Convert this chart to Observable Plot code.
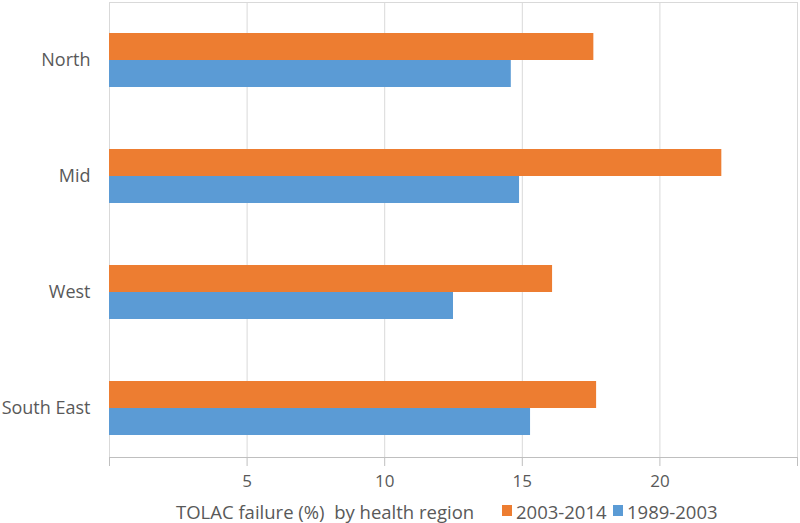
<!DOCTYPE html>
<html>
<head>
<meta charset="utf-8">
<script src="https://cdn.jsdelivr.net/npm/d3@7"></script>
<script src="https://cdn.jsdelivr.net/npm/@observablehq/plot@0.6"></script>
<style>
  body { margin: 0; background: #fff; font-family: "Open Sans", sans-serif; }
  #legend { position: relative; height: 26px; font-size: 18.5px; color: #595959; white-space: nowrap; }
  #legend span { position: absolute; top: 4px; line-height: 22px; }
  .sw { display: inline-block; width: 10px; height: 11px; }
</style>
</head>
<body>
<div id="chart"></div>
<div id="legend"></div>
<script>
const regions = ["North", "Mid", "West", "South East"];
const periods = ["2003-2014", "1989-2003"];
const values2003_2014 = [17.6, 22.25, 16.1, 17.7];
const values1989_2003 = [14.6, 14.9, 12.5, 15.3];
const xTicks = [0, 5, 10, 15, 20, 25];
const colors = ["#ED7D31", "#5B9BD5"];
const xLabel = "TOLAC failure (%)\u00a0 by health region";

const recent = regions.map((r, i) => ({region: r, period: periods[0], value: values2003_2014[i]}));
const older = regions.map((r, i) => ({region: r, period: periods[1], value: values1989_2003[i]}));

const plot = Plot.plot({
  width: 800,
  height: 497,
  marginLeft: 109,
  marginRight: 3,
  marginTop: 2,
  marginBottom: 40,
  style: {fontFamily: "'Open Sans', sans-serif", fontSize: "17px", color: "#595959", background: "#fff"},
  x: {domain: [0, 25]},
  y: {domain: regions, range: [33, 435], paddingInner: 0.5345, paddingOuter: 0},
  color: {domain: periods, range: colors},
  marks: [
    Plot.ruleX(xTicks, {stroke: "#d9d9d9", strokeWidth: 1}),
    Plot.frame({stroke: "#d9d9d9"}),
    Plot.barX(recent, {y: "region", x: "value", fill: "period", insetBottom: 27, insetTop: 0}),
    Plot.barX(older, {y: "region", x: "value", fill: "period", insetTop: 27, insetBottom: 0}),
    Plot.frame({anchor: "bottom", stroke: "#bfbfbf"}),
    Plot.axisX({ticks: xTicks, tickSize: 9, tickPadding: 8, stroke: "#bfbfbf", fill: "#595959",
      tickFormat: d => (d === 0 || d === 25) ? "" : d, label: null}),
    Plot.axisY({tickSize: 0, tickPadding: 19, fill: "#595959", label: null, fontSize: 18})
  ]
});
document.getElementById("chart").appendChild(plot);

const legend = document.getElementById("legend");
const items = [
  {x: 176, html: xLabel},
  {x: 502, html: `<span class="sw" style="background:${colors[0]}"></span>`},
  {x: 516, html: periods[0]},
  {x: 613, html: `<span class="sw" style="background:${colors[1]}"></span>`},
  {x: 627, html: periods[1]}
];
items.forEach(it => {
  const s = document.createElement("span");
  s.style.left = it.x + "px";
  s.innerHTML = it.html;
  legend.appendChild(s);
});
</script>
</body>
</html>
